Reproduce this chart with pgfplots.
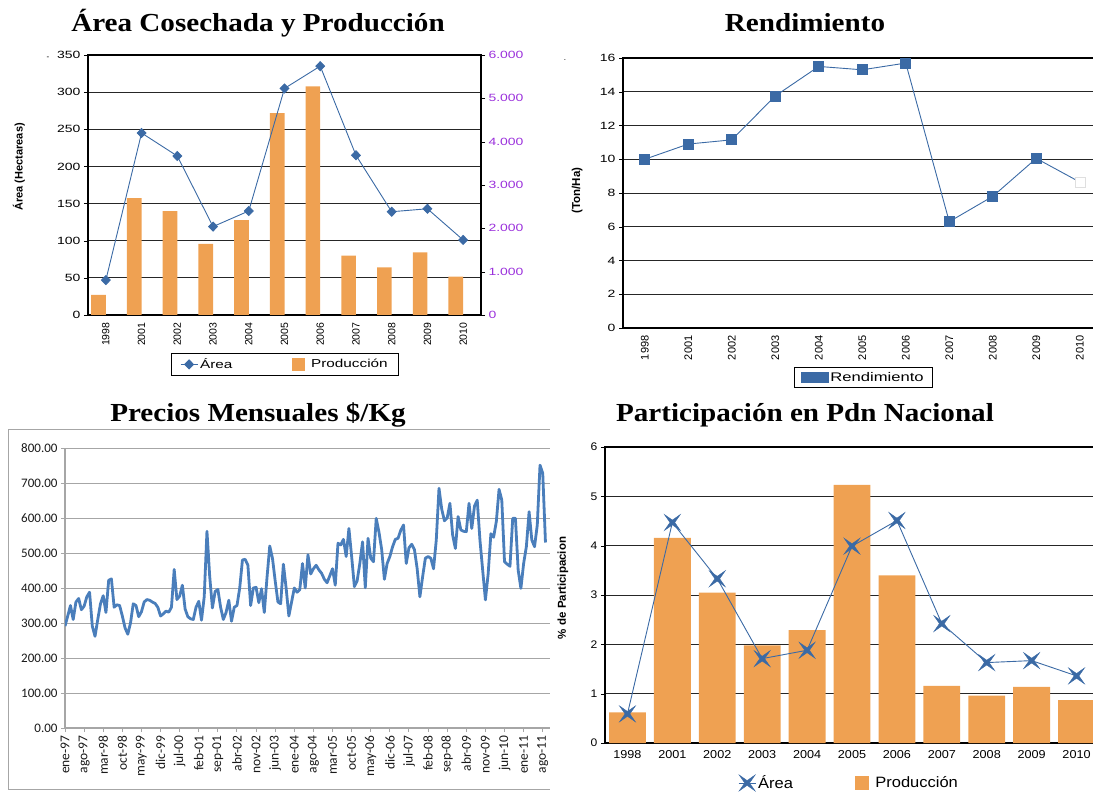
\documentclass[border=0pt]{standalone}
\usepackage{fontspec}
\setmainfont{Liberation Sans}
\newfontfamily\ttl{Liberation Serif}[FakeStretch=1.12]
\newfontfamily\aw{Liberation Sans}[FakeStretch=1.33]
\newfontfamily\an{Liberation Sans}
\newfontfamily\af{Liberation Sans}[FakeStretch=1.1]
\newfontfamily\carl{Carlito}
\usepackage{pgfplots}
\usepackage{pgfplotstable}
\pgfplotsset{compat=1.18}
\pgfplotsset{every axis/.append style={/pgf/number format/assume math mode=true}}
\definecolor{barO}{HTML}{EFA152}
\definecolor{lineB}{HTML}{3B6AA5}
\definecolor{priceB}{HTML}{4A7EBB}
\definecolor{purp}{HTML}{9A2FDB}
\definecolor{gridG}{HTML}{A6A6A6}
\pgfdeclareplotmark{star4}{%
  \pgfpathmoveto{\pgfqpoint{\pgfplotmarksize}{\pgfplotmarksize}}%
  \pgfpathlineto{\pgfqpoint{0pt}{0.3\pgfplotmarksize}}%
  \pgfpathlineto{\pgfqpoint{-\pgfplotmarksize}{\pgfplotmarksize}}%
  \pgfpathlineto{\pgfqpoint{-0.3\pgfplotmarksize}{0pt}}%
  \pgfpathlineto{\pgfqpoint{-\pgfplotmarksize}{-\pgfplotmarksize}}%
  \pgfpathlineto{\pgfqpoint{0pt}{-0.3\pgfplotmarksize}}%
  \pgfpathlineto{\pgfqpoint{\pgfplotmarksize}{-\pgfplotmarksize}}%
  \pgfpathlineto{\pgfqpoint{0.3\pgfplotmarksize}{0pt}}%
  \pgfpathclose\pgfusepathqfillstroke}

\pgfplotstableread{
x area prod
0 47 462
1 245 2696
2 214 2395
3 119 1640
4 140 2187
5 305 4660
6 335 5276
7 215 1371
8 139 1101
9 143 1448
10 101 886
}\tabA

\pgfplotstableread{
x r
0 10.0
1 10.9
2 11.15
3 13.75
4 15.5
5 15.3
6 15.7
7 6.3
8 7.8
9 10.05
10 8.65
}\tabR

\pgfplotstableread{
x prod area
0 0.62 0.59
1 4.16 4.47
2 3.05 3.33
3 1.98 1.71
4 2.29 1.88
5 5.23 3.99
6 3.40 4.51
7 1.16 2.42
8 0.96 1.63
9 1.14 1.67
10 0.87 1.36
}\tabP

\pgfplotstableread{
m p
0 291
1 320
2 350
3 310
4 360
5 370
6 338
7 348
8 375
9 388
10 291
11 262
12 310
13 355
14 378
15 330
16 422
17 426
18 345
19 352
20 350
21 320
22 286
23 268
24 300
25 355
26 350
27 318
28 332
29 360
30 367
31 365
32 360
33 356
34 345
35 320
36 326
37 334
38 331
39 345
40 453
41 367
42 377
43 408
44 340
45 318
46 312
47 310
48 345
49 362
50 308
51 375
52 562
53 434
54 343
55 390
56 396
57 345
58 310
59 330
60 365
61 305
62 345
63 350
64 400
65 480
66 482
67 465
68 350
69 400
70 402
71 358
72 398
73 330
74 430
75 520
76 485
77 420
78 360
79 355
80 468
81 400
82 320
83 360
84 400
85 388
86 395
87 470
88 400
89 495
90 440
91 455
92 465
93 452
94 442
95 425
96 415
97 435
98 455
99 408
100 528
101 523
102 539
103 490
104 570
105 490
106 404
107 420
108 470
109 532
110 401
111 542
112 485
113 475
114 599
115 560
116 510
117 425
118 470
119 490
120 518
121 539
122 542
123 565
124 580
125 470
126 515
127 525
128 510
129 455
130 375
131 432
132 485
133 490
134 485
135 455
136 537
137 685
138 625
139 592
140 600
141 642
142 551
143 513
144 604
145 566
146 562
147 561
148 642
149 570
150 634
151 651
152 537
153 451
154 366
155 440
156 555
157 545
158 590
159 682
160 651
161 475
162 468
163 462
164 599
165 599
166 451
167 399
168 470
169 518
170 618
171 537
172 518
173 580
174 751
175 728
176 530
}\tabM

\begin{document}
\begin{tikzpicture}[x=1pt,y=1pt]
\path[use as bounding box] (0,0) rectangle (1093,793);

% titles
\node[anchor=base, font=\ttl\bfseries\fontsize{26}{30}\selectfont] at (258,761) {Área Cosechada y Producción};
\node[anchor=base, font=\ttl\bfseries\fontsize{26}{30}\selectfont] at (805,761) {Rendimiento};
\node[anchor=base, font=\ttl\bfseries\fontsize{26}{30}\selectfont] at (258,371.5) {Precios Mensuales \$/Kg};
\node[anchor=base, font=\ttl\bfseries\fontsize{26}{30}\selectfont] at (805,371.5) {Participación en Pdn Nacional};
\node[font=\an\fontsize{8}{9}\selectfont] at (48,735) {-};
\node[font=\an\fontsize{8}{9}\selectfont] at (565,733) {.};

% frame of price chart
\draw[gridG, line width=1pt] (550,363) -- (8,363) -- (8,4) -- (550,4);

%================ Panel 1 =================
\begin{axis}[at={(88pt,478pt)}, anchor=south west, scale only axis,
  width=393pt, height=260pt,
  xmin=-0.5, xmax=10.5, ymin=0, ymax=350,
  xtick={0,...,10}, xticklabels={1998,2001,2002,2003,2004,2005,2006,2007,2008,2009,2010},
  xtick style={draw=none},
  xticklabel style={rotate=90, anchor=east, font=\an\fontsize{10.5}{12}\selectfont},
  ytick={0,50,...,350}, ytick pos=left,
  yticklabel style={font=\aw\fontsize{10.5}{12}\selectfont},
  ymajorgrids, grid style={black!85, line width=0.8pt},
  axis line style={black, line width=1.2pt},
  tick align=outside, major tick length=4pt, tick style={black},
  ylabel={Área (Hectareas)},
  ylabel style={at={(axis description cs:-0.176,0.57)}, anchor=center, font=\an\bfseries\fontsize{11}{12}\selectfont},
]
\end{axis}
\begin{axis}[at={(88pt,478pt)}, anchor=south west, scale only axis,
  width=393pt, height=260pt,
  xmin=-0.5, xmax=10.5, ymin=0, ymax=6000,
  axis x line=none, axis y line*=right,
  ytick={0,1000,...,6000}, yticklabels={0,1.000,2.000,3.000,4.000,5.000,6.000},
  yticklabel style={font=\aw\fontsize{10.5}{12}\selectfont, text=purp},
  axis line style={black, line width=1.2pt},
  tick align=outside, major tick length=4pt, tick style={black},
]
\addplot[ybar, bar width=0.41, bar shift=-0.205, fill=barO, draw=none] table[x=x, y=prod] {\tabA};
\end{axis}
\begin{axis}[at={(88pt,478pt)}, anchor=south west, scale only axis,
  width=393pt, height=260pt,
  xmin=-0.5, xmax=10.5, ymin=0, ymax=350, hide axis,
  legend style={at={(0.501,-0.19)}, anchor=center, draw=black, line width=0.8pt,
    font=\aw\fontsize{11.5}{13}\selectfont, legend columns=2,
    /tikz/every even column/.append style={column sep=58pt}, inner xsep=9pt, inner ysep=3pt},
]
\addplot[lineB, line width=0.9pt, mark=diamond*, mark size=4.5pt, mark options={xscale=1.3, fill=lineB}] table[x=x, y=area] {\tabA};
\addlegendentry{Área}
\addlegendimage{legend image code/.code={\fill[barO] (0pt,-6pt) rectangle (12pt,6pt);}}
\addlegendentry{\hspace{4pt}Producción\hspace{14pt}}
\end{axis}

%================ Panel 2 =================
\begin{axis}[at={(623pt,465pt)}, anchor=south west, scale only axis,
  width=478.5pt, height=270pt,
  xmin=-0.5, xmax=10.5, ymin=0, ymax=16,
  xtick={0,...,10}, xticklabels={1998,2001,2002,2003,2004,2005,2006,2007,2008,2009,2010},
  xtick style={draw=none},
  xticklabel style={rotate=90, anchor=east, font=\an\fontsize{11}{12}\selectfont},
  ytick={0,2,...,16}, ytick pos=left,
  yticklabel style={font=\aw\fontsize{10.5}{12}\selectfont},
  ymajorgrids, grid style={black!85, line width=0.8pt},
  axis line style={black, line width=1.2pt},
  tick align=outside, major tick length=4pt, tick style={black},
  ylabel={(Ton/Ha)},
  ylabel style={at={(axis description cs:-0.096,0.509)}, anchor=center, font=\an\bfseries\fontsize{11.5}{12}\selectfont},
  legend style={at={(0.5026,-0.183)}, anchor=center, draw=black, line width=0.8pt,
    font=\aw\fontsize{12.5}{14}\selectfont, inner xsep=7pt, inner ysep=3pt},
]
\addplot[lineB, line width=0.9pt, mark=square*, mark size=5pt, mark options={fill=lineB}, mark indices={1,...,10}] table[x=x, y=r] {\tabR};
\addlegendentry{Rendimiento\hspace{14pt}}
\addplot[only marks, mark=square*, mark size=5pt, mark options={fill=white, draw=gray!25}, mark indices={11}, forget plot] table[x=x, y=r] {\tabR};
\end{axis}

%================ Panel 3 =================
\begin{axis}[at={(65pt,65pt)}, anchor=south west, scale only axis,
  width=485pt, height=280pt,
  xmin=0, xmax=177.66, ymin=0, ymax=800,
  axis lines=left, axis line style={-, gridG, line width=1.2pt},
  xtick={0,7,...,175},
  xticklabels={ene-97,ago-97,mar-98,oct-98,may-99,dic-99,jul-00,feb-01,sep-01,abr-02,nov-02,jun-03,ene-04,ago-04,mar-05,oct-05,may-06,dic-06,jul-07,feb-08,sep-08,abr-09,nov-09,jun-10,ene-11,ago-11},
  xticklabel style={rotate=90, anchor=east, font=\carl\fontsize{13.5}{15}\selectfont, text=black!90},
  ytick={0,100,...,800},
  yticklabels={0.00,100.00,200.00,300.00,400.00,500.00,600.00,700.00,800.00},
  yticklabel style={font=\carl\fontsize{13}{14}\selectfont, text=black!90},
  ymajorgrids, grid style={gridG, line width=1pt},
  tick align=outside, major tick length=4pt, tick style={gridG, line width=1pt},
]
\addplot[priceB, line width=2.8pt, line join=round, no marks] table[x=m, y=p] {\tabM};
\end{axis}

%================ Panel 4 =================
\begin{axis}[at={(605pt,50pt)}, anchor=south west, scale only axis,
  width=494pt, height=296pt,
  xmin=-0.5, xmax=10.5, ymin=0, ymax=6,
  xtick={0,...,10}, xticklabels={1998,2001,2002,2003,2004,2005,2006,2007,2008,2009,2010},
  xtick style={draw=none},
  xticklabel style={font=\af\fontsize{11.5}{12}\selectfont},
  ytick={0,1,...,6}, ytick pos=left,
  yticklabel style={font=\af\fontsize{11}{12}\selectfont},
  ymajorgrids, grid style={black!85, line width=0.8pt},
  axis line style={black, line width=1.2pt},
  tick align=outside, major tick length=4pt, tick style={black},
  ylabel={\% de Participacion},
  ylabel style={at={(axis description cs:-0.085,0.524)}, anchor=center, font=\an\bfseries\fontsize{11.5}{12}\selectfont},
  legend style={at={(0.494,-0.135)}, anchor=center, draw=none,
    font=\af\fontsize{15}{16}\selectfont, legend columns=2,
    /tikz/every even column/.append style={column sep=60pt}},
]
\addplot[ybar, bar width=0.82, bar shift=0, fill=barO, draw=none, forget plot] table[x=x, y=prod] {\tabP};
\addplot[lineB, line width=0.9pt, mark=star4, mark size=8pt, mark options={fill=lineB, line width=0.4pt}] table[x=x, y=area] {\tabP};
\addlegendentry{Área}
\addlegendimage{legend image code/.code={\fill[barO] (0pt,-6.5pt) rectangle (13pt,6.5pt);}}
\addlegendentry{\hspace{5pt}Producción}
\end{axis}
\end{tikzpicture}
\end{document}
